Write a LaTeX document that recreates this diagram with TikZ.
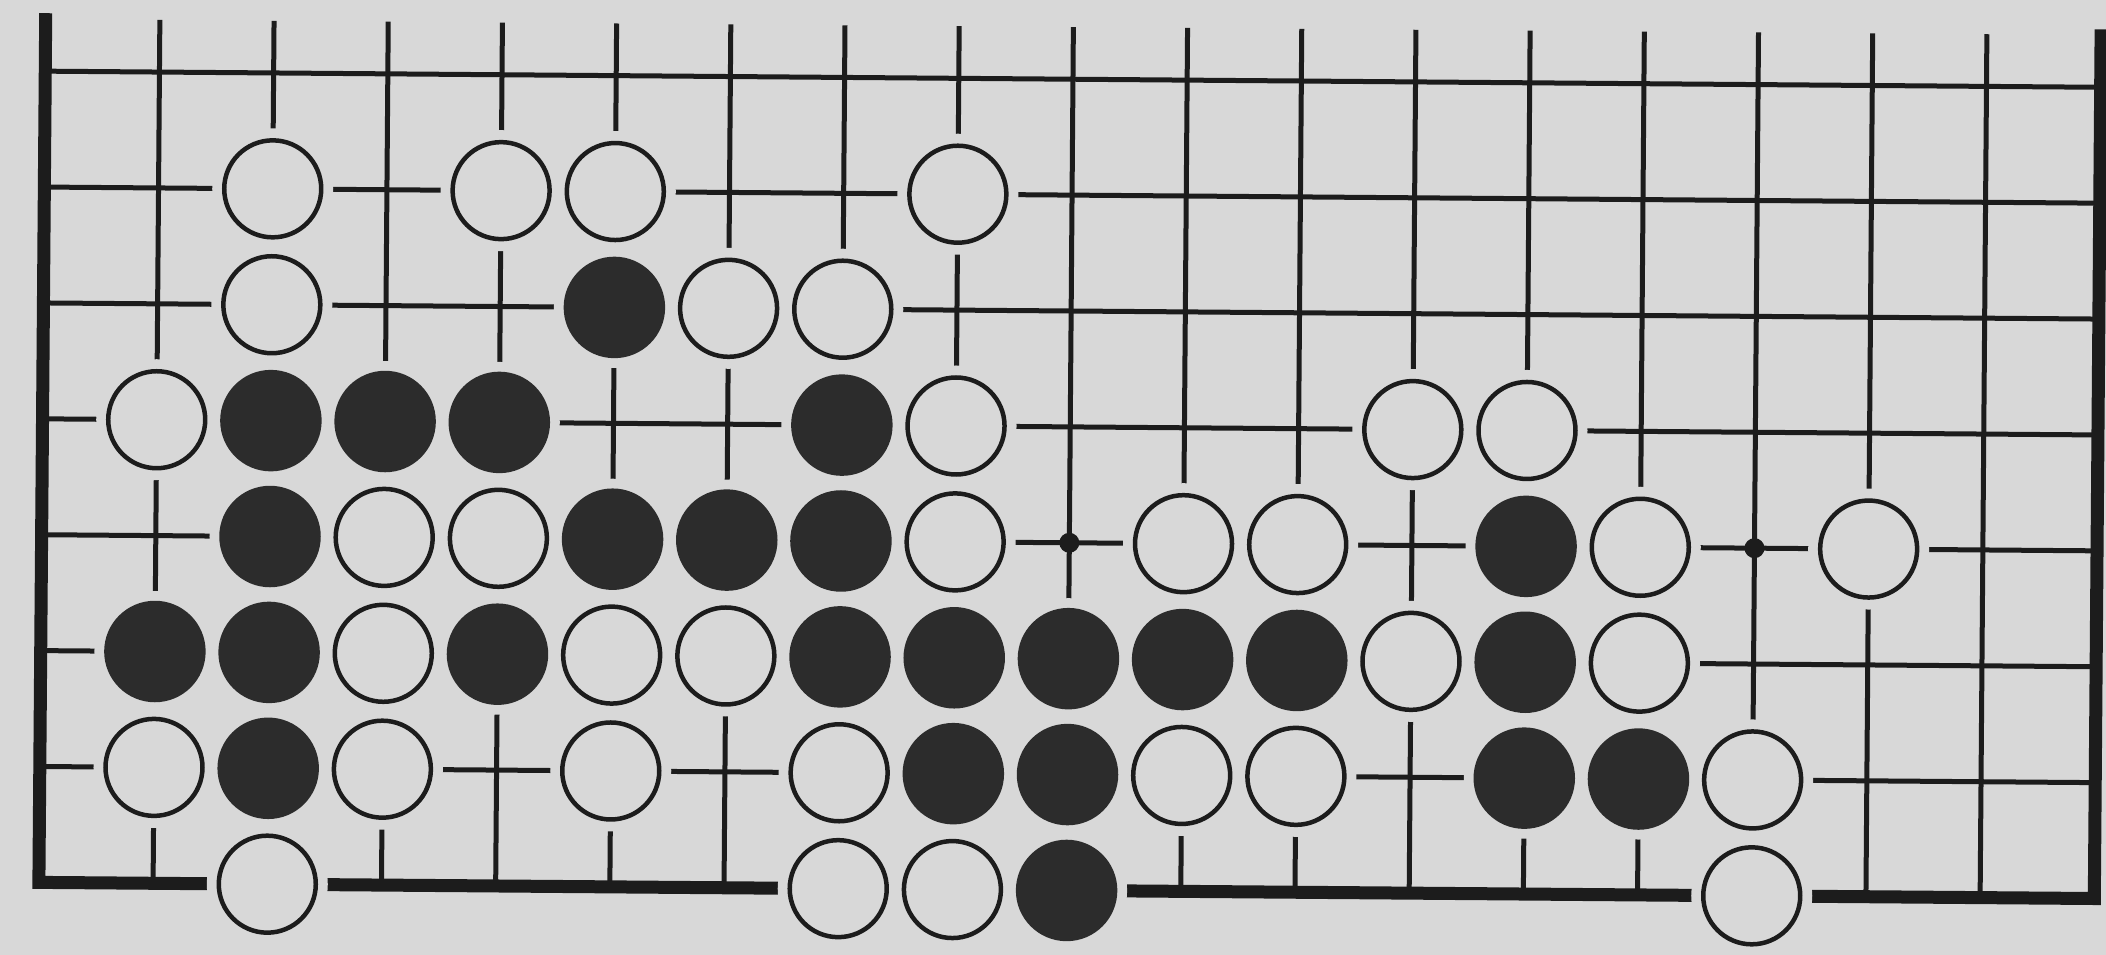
\documentclass[tikz,border=0pt]{standalone}
\definecolor{paper}{RGB}{216,216,216}
\definecolor{ink}{RGB}{28,28,28}
\definecolor{stone}{RGB}{44,44,44}

\begin{document}
\begin{tikzpicture}[x=1.142cm, y=1.159cm,
    gridline/.style={draw=ink, line width=0.05cm},
    boardedge/.style={draw=ink, line width=0.13cm, line join=miter},
    wstone/.style={circle, draw=ink, line width=0.045cm, fill=paper, minimum size=0.97cm, inner sep=0pt, preaction={draw=paper, line width=0.24cm}},
    bstone/.style={wstone, draw=stone, fill=stone},
    hoshi/.style={circle, fill=ink, minimum size=0.2cm, inner sep=0pt}]
    \fill[paper] (0.6322,0.4435) rectangle (19.074,8.6834);
    \useasboundingbox (0.6322,0.4435) rectangle (19.074,8.6834);

    \begin{scope}[rotate around={-0.45:(10,4.5)}]
    \foreach \r in {2,...,8}
        \draw[gridline] (1,\r) -- (19,\r);
    \foreach \c in {2,...,18}
        \draw[gridline] (\c,1) -- (\c,8.45);
    \draw[boardedge] (1,8.5) -- (1,1) -- (19,1) -- (19,8.5);

    \node[hoshi] (h10-4) at (10,4) {};
    \node[hoshi] (h16-4) at (16,4) {};

    \foreach \c/\r in {3/7,5/7,6/7,9/7, 3/6,7/6,8/6, 2/5,9/5,13/5,14/5,
                       4/4,5/4,9/4,11/4,12/4,15/4,17/4, 4/3,6/3,7/3,13/3,15/3,
                       2/2,4/2,6/2,8/2,11/2,12/2,16/2, 3/1,8/1,9/1,16/1}
        \node[wstone] (w\c-\r) at (\c,\r) {};
    \foreach \c/\r in {6/6, 3/5,4/5,5/5,8/5, 3/4,6/4,7/4,8/4,14/4,
                       2/3,3/3,5/3,8/3,9/3,10/3,11/3,12/3,14/3,
                       3/2,9/2,10/2,14/2,15/2, 10/1}
        \node[bstone] (b\c-\r) at (\c,\r) {};
    \end{scope}
\end{tikzpicture}
\end{document}
